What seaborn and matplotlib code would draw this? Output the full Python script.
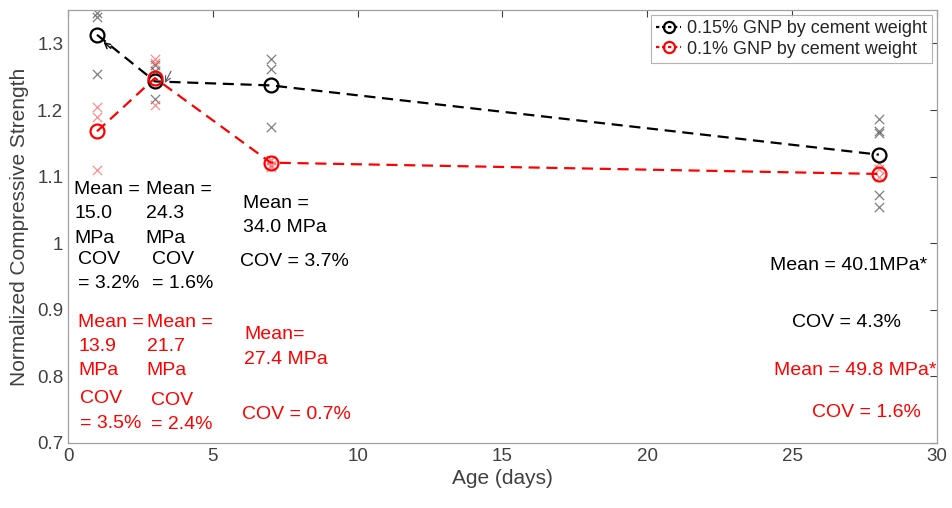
import matplotlib
matplotlib.use("Agg")
import matplotlib.pyplot as plt
from matplotlib.lines import Line2D
import seaborn as sns
import pandas as pd

sns.set_style("white")
plt.rcParams['font.family'] = ['Liberation Sans', 'DejaVu Sans']

# ---- data ----
age = [1, 3, 7, 28]
mean_015 = [1.313, 1.243, 1.237, 1.133]
mean_010 = [1.168, 1.248, 1.121, 1.104]

spec_age_015 = [1, 1, 1, 3, 3, 3, 7, 7, 7, 28, 28, 28, 28, 28]
spec_val_015 = [1.345, 1.339, 1.254, 1.267, 1.258, 1.216, 1.277, 1.262, 1.174, 1.187, 1.169, 1.165, 1.072, 1.054]
spec_age_010 = [1, 1, 1, 3, 3, 3, 7, 7, 7, 28, 28, 28]
spec_val_010 = [1.204, 1.189, 1.110, 1.276, 1.270, 1.208, 1.125, 1.118, 1.114, 1.120, 1.112, 1.100]

labels = ["0.15% GNP by cement weight", "0.1% GNP by cement weight"]
colors = ["black", "#ff0000"]

ann_text = ["Mean =\n15.0\nMPa", "COV\n= 3.2%", "Mean =\n24.3\nMPa", "COV\n= 1.6%",
            "Mean =\n34.0 MPa", "COV = 3.7%", "Mean = 40.1MPa*", "COV = 4.3%",
            "Mean =\n13.9\nMPa", "COV\n= 3.5%", "Mean =\n21.7\nMPa", "COV\n= 2.4%",
            "Mean=\n27.4 MPa", "COV = 0.7%", "Mean = 49.8 MPa*", "COV = 1.6%"]
ann_x = [0.21, 0.345, 2.68, 2.89, 6.03, 5.94, 24.23, 24.99,
         0.356, 0.414, 2.72, 2.86, 6.09, 6.02, 24.37, 25.68]
ann_y = [1.093, 0.988, 1.093, 0.988, 1.072, 0.986, 0.980, 0.894,
         0.894, 0.779, 0.894, 0.777, 0.875, 0.755, 0.822, 0.758]
ann_color = ["black"] * 8 + ["red"] * 8

# ---- figure ----
fig = plt.figure(figsize=(9.53, 5.08), dpi=100)
ax = fig.add_axes([0.0714, 0.128, 0.9116, 0.852])

df_s15 = pd.DataFrame({"age": spec_age_015, "val": spec_val_015})
df_s10 = pd.DataFrame({"age": spec_age_010, "val": spec_val_010})
sns.scatterplot(data=df_s15, x="age", y="val", marker="x", color="#555555", s=45,
                linewidth=0.9, alpha=0.75, ax=ax, legend=False, zorder=2)
sns.scatterplot(data=df_s10, x="age", y="val", marker="x", color="#ff4040", s=45,
                linewidth=0.9, alpha=0.6, ax=ax, legend=False, zorder=2)

df_m = pd.DataFrame({"age": age * 2, "val": mean_015 + mean_010,
                     "series": [labels[0]] * 4 + [labels[1]] * 4})
sns.lineplot(data=df_m, x="age", y="val", hue="series",
             palette={labels[0]: colors[0], labels[1]: colors[1]},
             marker="o", markersize=10, markerfacecolor="none", markeredgewidth=1.6,
             linestyle="--", linewidth=1.6, ax=ax, zorder=3, legend=False)
for ln, c in zip(ax.get_lines()[:2], colors):
    ln.set_markeredgecolor(c)
    ln.set_dashes([5, 3])

# small arrows as in the reference
ax.annotate("", xy=(1.15, 1.305), xytext=(1.55, 1.29),
            arrowprops=dict(arrowstyle="->", color="black", lw=1.0))
ax.annotate("", xy=(3.3, 1.237), xytext=(3.6, 1.262),
            arrowprops=dict(arrowstyle="->", color="#555555", lw=0.8))

for t, x, y, c in zip(ann_text, ann_x, ann_y, ann_color):
    ax.text(x, y, t, color=c, fontsize=14, va="top", ha="left", linespacing=1.55)

ax.set_xlim(0, 30)
ax.set_ylim(0.7, 1.35)
ax.set_xticks([0, 5, 10, 15, 20, 25, 30])
ax.set_yticks([0.7, 0.8, 0.9, 1.0, 1.1, 1.2, 1.3])
ax.set_yticklabels(["0.7", "0.8", "0.9", "1", "1.1", "1.2", "1.3"])
ax.set_xlabel("Age (days)", fontsize=15, color="#404040", labelpad=3)
ax.set_ylabel("Normalized Compressive Strength", fontsize=15, color="#404040", labelpad=6)
ax.tick_params(direction="in", top=True, right=True, labelsize=13.5,
               colors="#404040", length=5, width=0.8)
for sp in ax.spines.values():
    sp.set_color("#a0a0a0")
    sp.set_linewidth(0.9)

handles = [Line2D([], [], color=c, linestyle=(0, (1.5, 1.2)), linewidth=1.6, marker="o",
                  markersize=8, markerfacecolor="none", markeredgewidth=1.6)
           for c in colors]
leg = ax.legend(handles, labels, loc="upper right", fontsize=13, frameon=True, fancybox=False,
                edgecolor="#a0a0a0", handlelength=1.4, handletextpad=0.3,
                borderpad=0.3, labelspacing=0.2, borderaxespad=0.25)
leg.get_frame().set_linewidth(0.8)

fig.savefig("out.png", dpi=100)
